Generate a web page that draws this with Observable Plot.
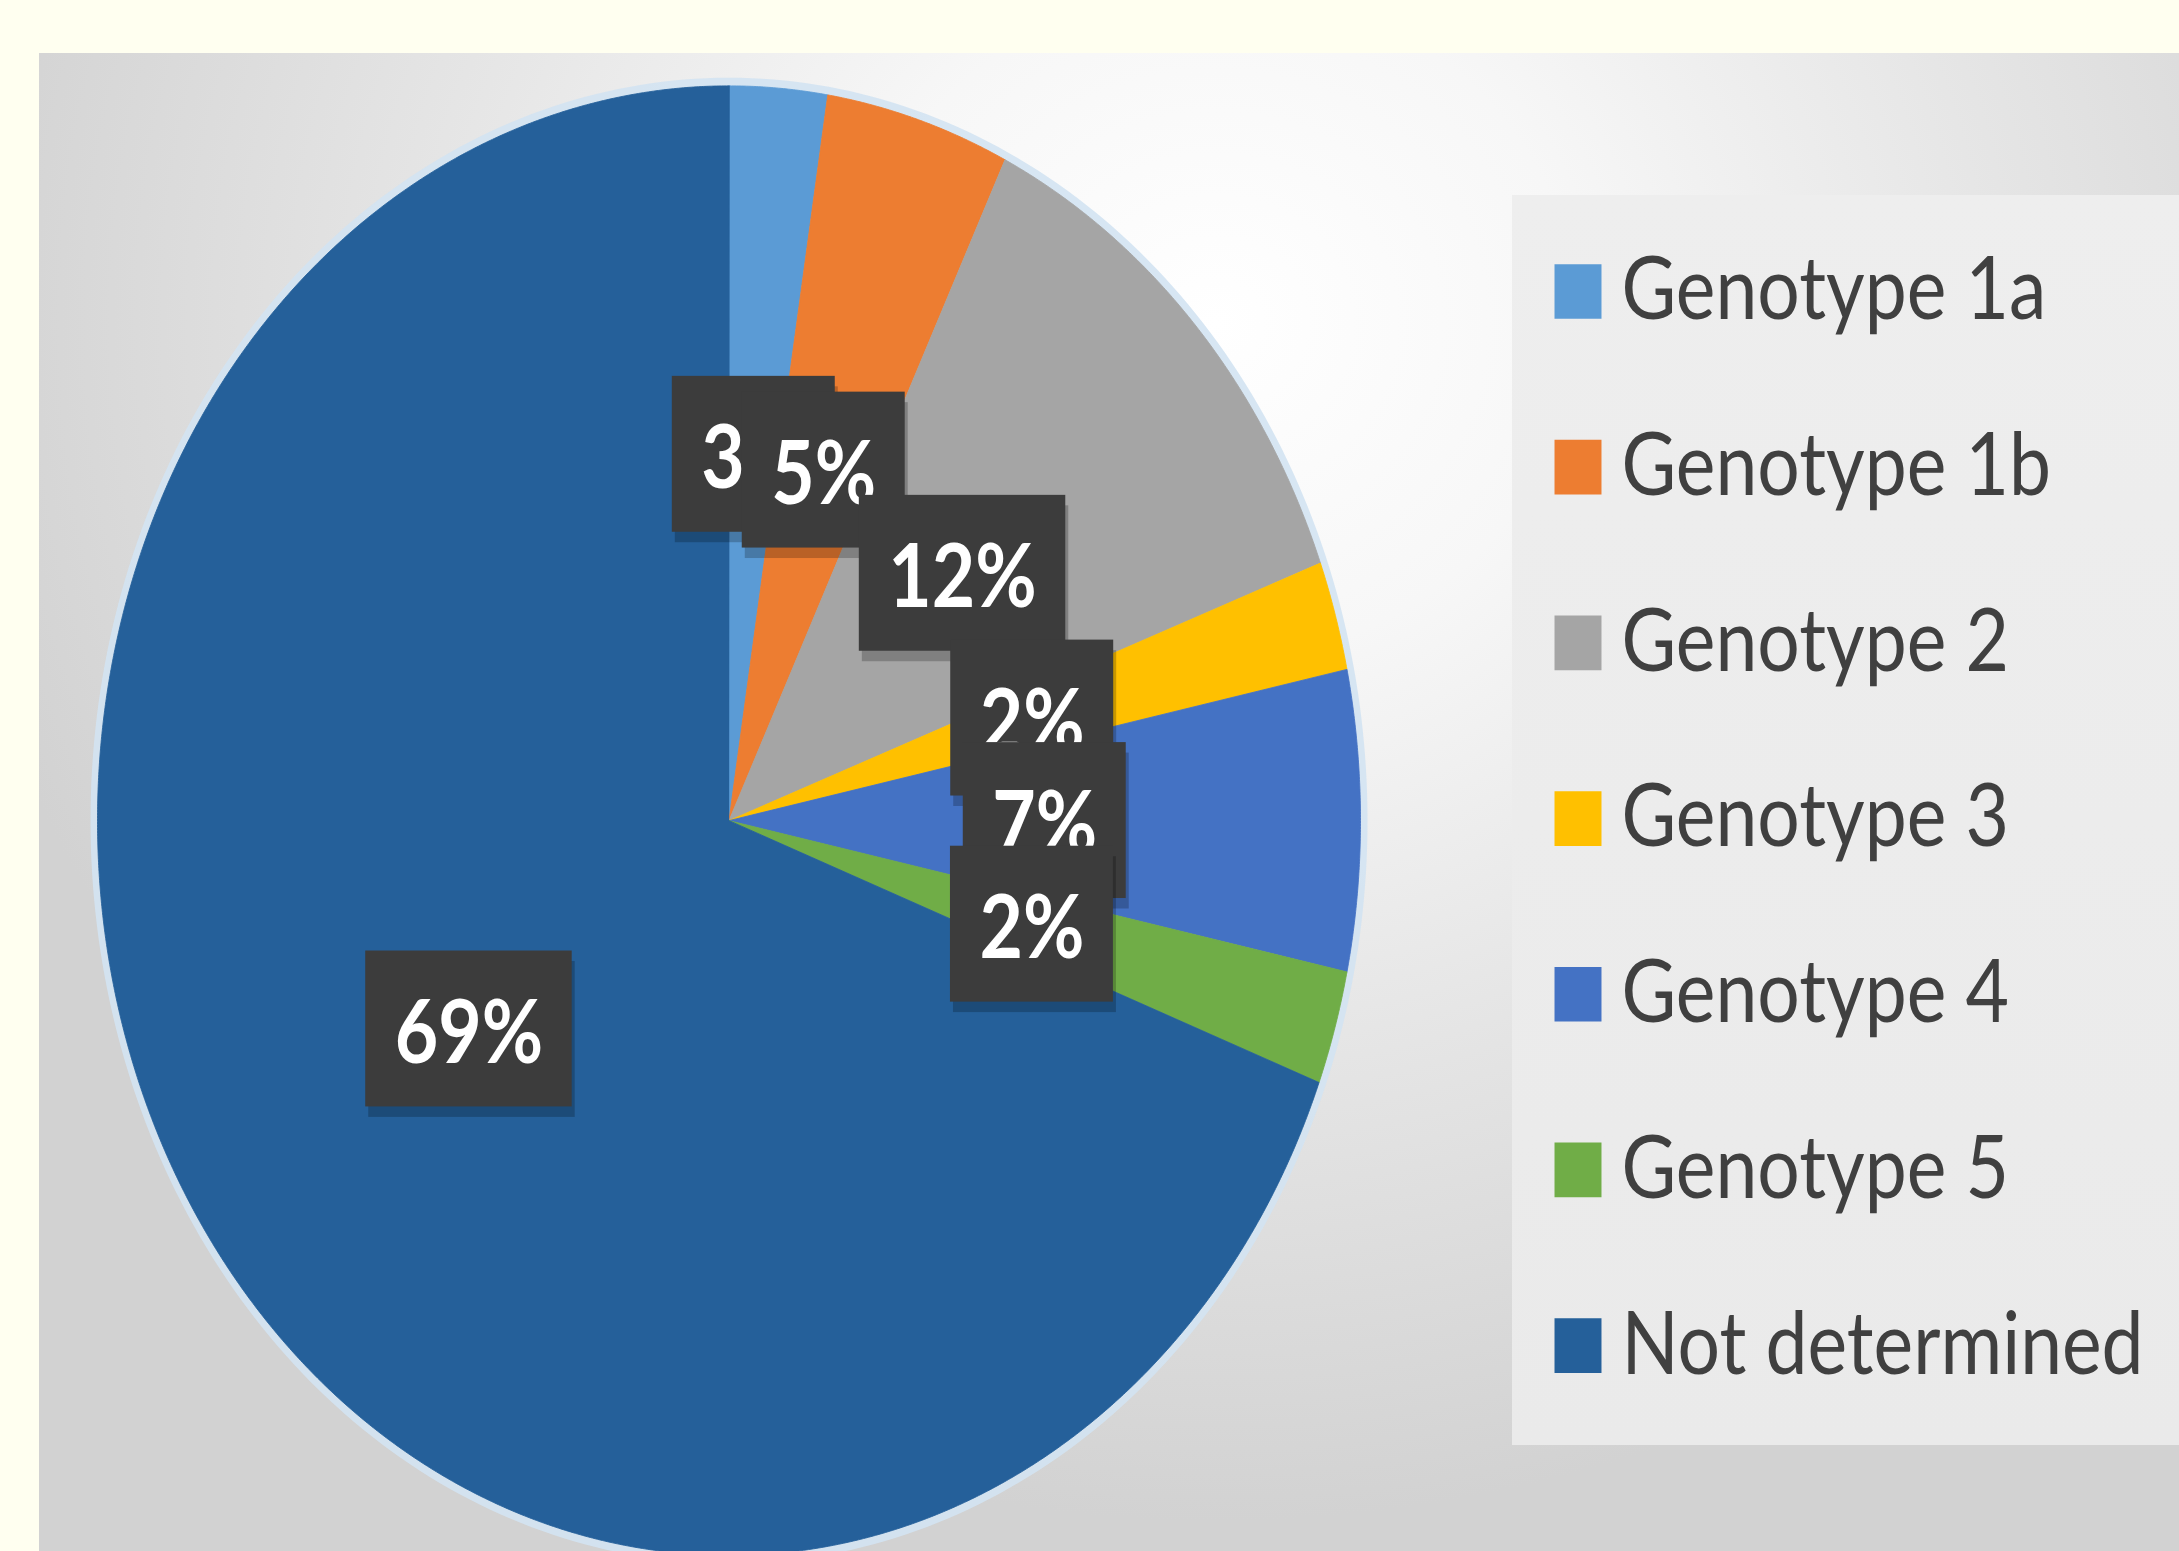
<!DOCTYPE html>
<html>
<head>
<meta charset="utf-8">
<script src="https://cdn.jsdelivr.net/npm/d3@7"></script>
<script src="https://cdn.jsdelivr.net/npm/@observablehq/plot@0.6"></script>
<style>
  html, body { margin: 0; padding: 0; overflow: hidden; background: #fffff0; }
  #wrap { position: relative; width: 2179px; height: 1551px; background: #fffff0; }
  #panel { position: absolute; left: 39px; top: 53px; right: 0; bottom: 0;
    background: radial-gradient(ellipse 60% 80% at 55% 18%, #ffffff 0%, #f7f7f7 28%, #e6e6e6 60%, #d2d2d2 100%); }
  #legendbox { position: absolute; left: 1512px; top: 195px; width: 667px; height: 1250px;
    background: linear-gradient(180deg, #eeeeee 0%, #eaeaea 100%); }
  #wrap svg { position: absolute; left: 0; top: 0; }
</style>
</head>
<body>
<div id="wrap"><div id="panel"></div><div id="legendbox"></div></div>
<script>
// ---- data ----
const names  = ["Genotype 1a", "Genotype 1b", "Genotype 2", "Genotype 3", "Genotype 4", "Genotype 5", "Not determined"];
const values = [2.5, 4.7, 12.1, 2.4, 6.6, 2.5, 69.2];
const labels = ["3%", "5%", "12%", "2%", "7%", "2%", "69%"];
const colors = ["#5B9BD5", "#ED7D31", "#A5A5A5", "#FFC000", "#4472C4", "#70AD47", "#25609A"];

// ---- layout (native, unstretched space; the SVG is stretched vertically like the source image) ----
const W = 2179, H = 1333, OUT_H = 1551;
const cx = 728.5, cy = 704.8, R = 631.5;

const table = names.map((name, i) => ({name, value: values[i], label: labels[i]}));
const arcs = d3.pie().sort(null).value(d => d.value)(table);

// slice polygons in unit-circle data space (y up)
const slicePts = [];
for (const a of arcs) {
  const n = Math.max(6, Math.ceil((a.endAngle - a.startAngle) / 0.004));
  slicePts.push({name: a.data.name, x: 0, y: 0});
  for (let k = 0; k <= n; ++k) {
    const t = a.startAngle + (a.endAngle - a.startAngle) * k / n;
    slicePts.push({name: a.data.name, x: Math.sin(t), y: Math.cos(t)});
  }
}
const ring = d3.range(0, 361).map(d => ({x: Math.sin(d * Math.PI / 180), y: Math.cos(d * Math.PI / 180)}));

// label positions at slice centroid (half radius)
const ctx = document.createElement("canvas").getContext("2d");
ctx.font = "bold 75px Lato";
const padX = 29, halfHpx = 67;
const labs = arcs.map(a => {
  const m = (a.startAngle + a.endAngle) / 2;
  const x = 0.5 * Math.sin(m), y = 0.5 * Math.cos(m);
  const hw = (ctx.measureText(a.data.label).width / 2 + padX) / R;
  const hh = halfHpx / R;
  return {name: a.data.name, label: a.data.label, x, y, x1: x - hw, x2: x + hw, y1: y - hh, y2: y + hh};
});

const labelMarks = labs.flatMap(d => [
  Plot.rect([d], {x1: "x1", x2: "x2", y1: "y1", y2: "y2", fill: "#000", fillOpacity: 0.22, dy: 9, dx: 3}),
  Plot.rect([d], {x1: "x1", x2: "x2", y1: "y1", y2: "y2", fill: "#3c3c3c"}),
  Plot.text([d], {x: "x", y: "y", text: "label", fill: "#ffffff", fontSize: 75, fontWeight: "bold", fontFamily: "Lato", dy: 5})
]);

const pie = Plot.plot({
  width: W, height: H,
  margin: 0,
  style: {background: "transparent", fontFamily: "Lato"},
  x: {domain: [-1, 1], range: [cx - R, cx + R], axis: null},
  y: {domain: [-1, 1], range: [cy + R, cy - R], axis: null},
  color: {domain: names, range: colors},
  marks: [
    Plot.line(ring, {x: "x", y: "y", stroke: "#d3e3f2", strokeWidth: 14, strokeOpacity: 0.9, curve: "linear-closed"}),
    Plot.line(slicePts, {x: "x", y: "y", z: "name", fill: "name", stroke: "name", strokeWidth: 0.8, curve: "linear-closed"}),
    ...labelMarks
  ]
});

const legend = Plot.plot({
  width: W, height: H,
  marginLeft: 1554, marginRight: 0, marginTop: 0, marginBottom: 0,
  style: {background: "transparent", fontFamily: "Lato"},
  y: {type: "point", domain: names, range: [247.5, 1158.6], padding: 0, axis: null},
  x: {axis: null},
  color: {domain: names, range: colors},
  marks: [
    Plot.dot(table, {y: "name", fill: "name", symbol: "square", r: 26.5, frameAnchor: "left", dx: 23.5, stroke: null}),
    Plot.text(table, {y: "name", text: "name", frameAnchor: "left", dx: 67, textAnchor: "start",
      fontSize: 75, fontFamily: "Lato", fill: "#404040"})
  ]
});

const wrap = document.getElementById("wrap");
for (const svg of [pie, legend]) {
  svg.setAttribute("preserveAspectRatio", "none");
  svg.style.width = W + "px";
  svg.style.height = OUT_H + "px";
  svg.style.maxWidth = "none";
  svg.style.background = "transparent";
  wrap.appendChild(svg);
}
</script>
</body>
</html>
